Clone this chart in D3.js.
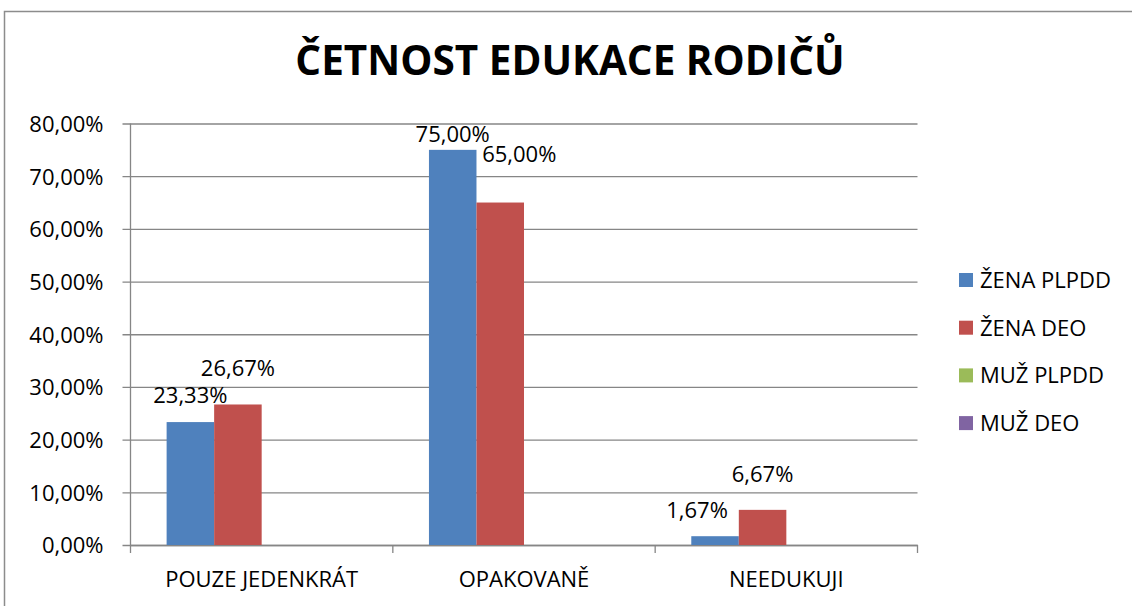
<!DOCTYPE html>
<html>
<head>
<meta charset="utf-8">
<script src="https://cdn.jsdelivr.net/npm/d3@7"></script>
<style>
  html, body { margin: 0; padding: 0; background: #fff; }
  svg { display: block; font-family: "Open Sans", sans-serif; }
</style>
</head>
<body>
<div id="chart"></div>
<script>
var width = 1132,
    height = 606,
    fs = 22;

// data
var categories = ['POUZE JEDENKRÁT', 'OPAKOVANĚ', 'NEEDUKUJI'];
var seriesNames = ['ŽENA PLPDD', 'ŽENA DEO', 'MUŽ PLPDD', 'MUŽ DEO'];
var zenaPlpdd = [0.2333, 0.75, 0.0167];
var zenaDeo = [0.2667, 0.65, 0.0667];
var muzPlpdd = [null, null, null];
var muzDeo = [null, null, null];
var yTicks = [0, 0.1, 0.2, 0.3, 0.4, 0.5, 0.6, 0.7, 0.8];
var colours = ['#4f81bd', '#c0504d', '#9bbb59', '#8064a2'];

// hand moved labels, as in the original sheet [dx, dy]
var labelNudge = {
  '0-0': [0, -11], '1-0': [0, -20],
  '0-1': [0, 0],   '1-1': [19, -33],
  '0-2': [-18, -10], '1-2': [0, -20]
};

var allSeries = [zenaPlpdd, zenaDeo, muzPlpdd, muzDeo];

var svg = d3.select('#chart').append('svg')
    .attr('width', width)
    .attr('height', height);

// outer frame of the chart
svg.append('rect')
    .attr('x', 4.5).attr('y', 11.5)
    .attr('width', 1150).attr('height', 620)
    .attr('fill', 'none')
    .attr('stroke', '#8c8c8c')
    .attr('stroke-width', 1.5);

svg.append('text')
    .attr('x', 570).attr('y', 75)
    .attr('text-anchor', 'middle')
    .attr('font-size', 40.5)
    .attr('font-weight', 'bold')
    .attr('fill', '#000')
    .text('ČETNOST EDUKACE RODIČŮ');

var x0 = d3.scaleBand()
    .domain(categories)
    .range([130.5, 917.5])
    .paddingInner(0).paddingOuter(0);

var x1 = d3.scaleBand()
    .domain(d3.range(seriesNames.length))
    .range([0, x0.bandwidth()])
    .paddingInner(0).paddingOuter(0.76);

var y = d3.scaleLinear()
    .domain([0, 0.8])
    .range([545, 123.5]);

var fmt = function(v) {
  return d3.format('.2f')(v * 100).replace('.', ',') + '%';
};

// gridlines + y labels
var yAxis = d3.axisLeft(y)
    .tickValues(yTicks)
    .tickSize(-(917.5 - 130.5))
    .tickSizeOuter(0)
    .tickPadding(27)
    .tickFormat(fmt);

var gy = svg.append('g')
    .attr('transform', 'translate(130.5,0)')
    .call(yAxis);
gy.select('.domain').remove();
gy.selectAll('.tick line')
    .attr('x1', -8)
    .attr('stroke', '#868686')
    .attr('stroke-width', 1.3);
gy.selectAll('.tick text')
    .attr('font-size', fs)
    .attr('font-family', '"Open Sans", sans-serif')
    .attr('fill', '#000')
    .attr('dy', '0.36em');

// y axis line
svg.append('line')
    .attr('x1', 130.5).attr('x2', 130.5)
    .attr('y1', y(0.8)).attr('y2', y(0))
    .attr('stroke', '#868686').attr('stroke-width', 1.3);

// x axis
var xAxis = d3.axisBottom(x0).tickSize(0).tickPadding(26);
var gx = svg.append('g')
    .attr('transform', 'translate(0,' + y(0) + ')')
    .call(xAxis);
gx.select('.domain')
    .attr('stroke', '#868686').attr('stroke-width', 1.3);
gx.selectAll('.tick text')
    .attr('font-size', fs)
    .attr('font-family', '"Open Sans", sans-serif')
    .attr('fill', '#000');

// category separators on x axis
var bounds = categories.map(function(c) { return x0(c); }).concat([x0.range()[1]]);
svg.selectAll('.xsep')
    .data(bounds)
    .enter().append('line')
    .attr('class', 'xsep')
    .attr('x1', function(d) { return d; })
    .attr('x2', function(d) { return d; })
    .attr('y1', y(0)).attr('y2', y(0) + 8)
    .attr('stroke', '#868686').attr('stroke-width', 1.3);

// bars
var barData = [];
allSeries.forEach(function(vals, s) {
  vals.forEach(function(v, c) {
    if (v !== null) barData.push({s: s, c: c, v: v});
  });
});

svg.selectAll('.bar')
    .data(barData)
    .enter().append('rect')
    .attr('class', 'bar')
    .attr('x', function(d) { return x0(categories[d.c]) + x1(d.s); })
    .attr('y', function(d) { return y(d.v); })
    .attr('width', x1.bandwidth())
    .attr('height', function(d) { return y(0) - y(d.v); })
    .attr('fill', function(d) { return colours[d.s]; });

svg.selectAll('.lbl')
    .data(barData)
    .enter().append('text')
    .attr('class', 'lbl')
    .attr('x', function(d) {
      var n = labelNudge[d.s + '-' + d.c] || [0, 0];
      return x0(categories[d.c]) + x1(d.s) + x1.bandwidth() / 2 + n[0];
    })
    .attr('y', function(d) {
      var n = labelNudge[d.s + '-' + d.c] || [0, 0];
      return y(d.v) - 8 + n[1];
    })
    .attr('text-anchor', 'middle')
    .attr('font-size', fs)
    .attr('fill', '#000')
    .text(function(d) { return fmt(d.v); });

// legend
var legend = svg.selectAll('.legend')
    .data(seriesNames)
    .enter().append('g')
    .attr('class', 'legend')
    .attr('transform', function(d, i) { return 'translate(959,' + (280 + i * 47.7) + ')'; });

legend.append('rect')
    .attr('x', 0).attr('y', -7)
    .attr('width', 14).attr('height', 14)
    .attr('fill', function(d, i) { return colours[i]; });

legend.append('text')
    .attr('x', 21).attr('y', 0)
    .attr('dy', '0.36em')
    .attr('font-size', fs)
    .attr('fill', '#000')
    .text(function(d) { return d; });
</script>
</body>
</html>
